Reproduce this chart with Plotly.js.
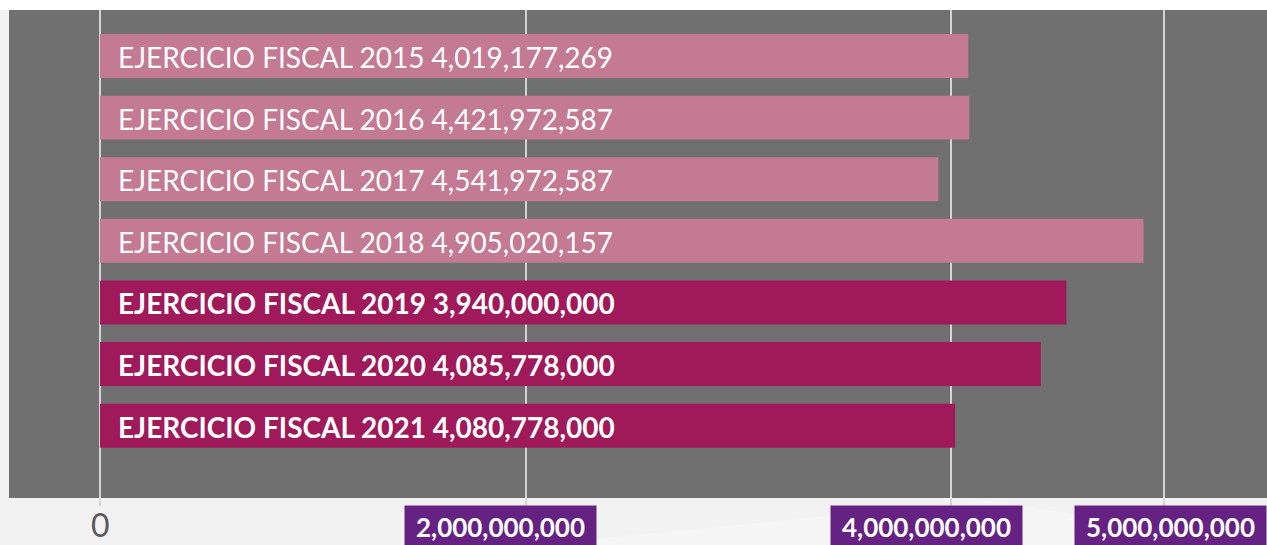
<!DOCTYPE html>
<html>
<head>
<meta charset="utf-8">
<script src="https://cdn.plot.ly/plotly-3.0.1.min.js"></script>
<style>html,body{margin:0;padding:0;background:#f2f2f2;}#chart{width:1267px;height:545px;}</style>
</head>
<body>
<div id="chart"></div>
<script>
// Category order, top to bottom
const categories = ["2015", "2016", "2017", "2018", "2019", "2020", "2021"];
// Bar lengths as drawn in the picture
const barValues = [4080778000, 4085778000, 3940000000, 4905020157, 4541972587, 4421972587, 4019177269];
// Text printed inside each bar
const barLabels = [
  "EJERCICIO FISCAL 2015 4,019,177,269",
  "EJERCICIO FISCAL 2016 4,421,972,587",
  "EJERCICIO FISCAL 2017 4,541,972,587",
  "EJERCICIO FISCAL 2018 4,905,020,157",
  "EJERCICIO FISCAL 2019 3,940,000,000",
  "EJERCICIO FISCAL 2020 4,085,778,000",
  "EJERCICIO FISCAL 2021 4,080,778,000"
];
const highlighted = [false, false, false, false, true, true, true];
// Axis ticks
const tickVals = [0, 2000000000, 4000000000, 5000000000];
const tickText = ["0", "2,000,000,000", "4,000,000,000", "5,000,000,000"];

const PINK = "#c47a93", MAGENTA = "#a0195a", PURPLE = "#662282";

const trace = {
  type: "bar",
  orientation: "h",
  y: categories,
  x: barValues,
  marker: {color: highlighted.map(h => h ? MAGENTA : PINK), line: {width: 0}},
  hoverinfo: "none"
};

const annotations = [];
categories.forEach((c, i) => {
  annotations.push({
    x: 0, xref: "x", y: i, yref: "y",
    xanchor: "left", yanchor: "middle", xshift: 16, yshift: -1,
    text: barLabels[i], showarrow: false,
    font: {family: "Lato", size: 28, color: "#ffffff", weight: highlighted[i] ? "bold" : "normal"}
  });
});
tickVals.forEach((v, i) => {
  if (v === 0) {
    annotations.push({
      x: v, xref: "x", y: 0, yref: "paper", xanchor: "center", yanchor: "top", yshift: -5,
      text: tickText[i], showarrow: false,
      font: {family: "Lato", size: 32, color: "#595959"}
    });
  } else {
    const last = i === tickVals.length - 1;
    annotations.push({
      x: last ? 1 : v, xref: last ? "paper" : "x", y: 0, yref: "paper",
      xanchor: last ? "right" : "center", yanchor: "top", yshift: -7, xshift: last ? 0 : -25,
      text: tickText[i], showarrow: false, bgcolor: PURPLE, borderpad: 5, width: 181,
      font: {family: "Lato", size: 26, color: "#ffffff", weight: "bold"}
    });
  }
});

const layout = {
  width: 1267, height: 545,
  margin: {l: 9, r: 0, t: 10, b: 47, pad: 0},
  paper_bgcolor: "#f2f2f2",
  plot_bgcolor: "#707070",
  showlegend: false,
  bargap: 0.286,
  xaxis: {
    range: [-427700000, 5485000000],
    tickvals: tickVals, showticklabels: false,
    showgrid: true, gridcolor: "#d4d4d4", gridwidth: 2,
    zeroline: false, ticks: "outside", ticklen: 7, tickcolor: "#d4d4d4", tickwidth: 2,
    showline: false, fixedrange: true
  },
  yaxis: {
    type: "category", categoryorder: "array", categoryarray: categories,
    range: [7.174, -0.747],
    showticklabels: false, showgrid: false, zeroline: false, ticks: "", showline: false, fixedrange: true
  },
  shapes: [
    {type: "rect", xref: "paper", yref: "paper", x0: -0.01, x1: 1.01, y0: 1, y1: 1.05, fillcolor: "#ffffff", line: {width: 0}, layer: "below"},
    {type: "path", xref: "paper", yref: "paper", path: "M 0.4 -0.1 L 0.78 -0.005 L 1 -0.1 Z", fillcolor: "#f5f5f5", line: {width: 0}, layer: "below"}
  ],
  annotations: annotations
};

Plotly.newPlot("chart", [trace], layout, {displayModeBar: false, staticPlot: true});
</script>
</body>
</html>
